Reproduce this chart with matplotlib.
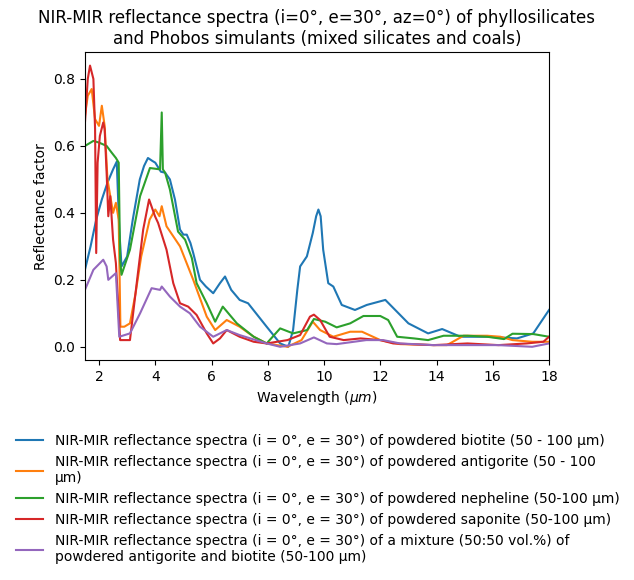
import matplotlib.pyplot as plt

# wavelength (um) / reflectance pairs
biotite_x = [1.5, 1.7, 1.9, 2.1, 2.3, 2.5, 2.63, 2.72, 2.8, 3.0, 3.2, 3.45, 3.6, 3.74, 3.9, 4.0, 4.2, 4.35,
             4.52, 4.7, 4.88, 5.0, 5.12, 5.25, 5.35, 5.59, 5.8, 6.06, 6.3, 6.48, 6.7, 7.0, 7.3, 7.96,
             8.44, 8.73, 8.9, 9.05, 9.15, 9.39, 9.6, 9.72, 9.8, 9.88, 9.97, 10.15, 10.33, 10.63, 11.1,
             11.52, 12.18, 12.59, 13.0, 13.7, 14.2, 14.85, 15.8, 16.86, 17.44, 18.0]
biotite_y = [0.23, 0.30, 0.38, 0.44, 0.49, 0.53, 0.553, 0.35, 0.24, 0.27, 0.38, 0.50, 0.54, 0.564, 0.555,
             0.55, 0.523, 0.52, 0.50, 0.44, 0.35, 0.335, 0.335, 0.31, 0.28, 0.20, 0.18, 0.16, 0.19,
             0.21, 0.17, 0.14, 0.13, 0.06, 0.01, 0.0, 0.05, 0.17, 0.24, 0.27, 0.34, 0.39, 0.41, 0.39,
             0.29, 0.19, 0.18, 0.125, 0.11, 0.125, 0.14, 0.105, 0.07, 0.04, 0.053, 0.03, 0.03, 0.025,
             0.04, 0.11]

antigorite_x = [1.5, 1.6, 1.74, 1.86, 2.0, 2.1, 2.2, 2.3, 2.4, 2.5, 2.6, 2.7, 2.76, 2.9, 3.1, 3.3, 3.5,
                3.8, 4.0, 4.15, 4.23, 4.4, 4.88, 5.35, 5.83, 6.13, 6.54, 7.0, 7.5, 7.96, 8.7, 9.2,
                9.6, 9.86, 10.33, 10.93, 11.35, 12.0, 12.7, 13.9, 14.37, 14.96, 15.8, 16.27, 16.7,
                17.4, 18.0]
antigorite_y = [0.69, 0.75, 0.77, 0.68, 0.66, 0.72, 0.66, 0.50, 0.45, 0.40, 0.43, 0.38, 0.06, 0.06, 0.07,
                0.16, 0.27, 0.38, 0.41, 0.39, 0.42, 0.36, 0.30, 0.20, 0.09, 0.05, 0.08, 0.06, 0.03, 0.01,
                0.0, 0.02, 0.075, 0.05, 0.03, 0.045, 0.045, 0.02, 0.008, 0.005, 0.005, 0.033, 0.033,
                0.03, 0.02, 0.015, 0.015]

nepheline_x = [1.5, 1.8, 2.0, 2.27, 2.45, 2.6, 2.7, 2.75, 2.8, 3.1, 3.46, 3.81, 4.17, 4.23, 4.27, 4.35,
               4.52, 4.81, 5.06, 5.3, 5.47, 5.83, 6.13, 6.4, 6.6, 6.9, 7.5, 7.96, 8.44, 8.9, 9.4, 9.64,
               10.04, 10.45, 10.93, 11.4, 12.0, 12.28, 12.6, 13.2, 13.7, 14.25, 15.1, 15.8, 16.4, 16.7,
               17.44, 18.0]
nepheline_y = [0.60, 0.615, 0.61, 0.60, 0.58, 0.564, 0.55, 0.26, 0.215, 0.29, 0.45, 0.534, 0.53, 0.70,
               0.53, 0.52, 0.47, 0.344, 0.32, 0.265, 0.19, 0.13, 0.075, 0.12, 0.10, 0.07, 0.03, 0.01,
               0.055, 0.04, 0.05, 0.083, 0.075, 0.058, 0.07, 0.092, 0.092, 0.08, 0.03, 0.025, 0.02,
               0.033, 0.033, 0.03, 0.023, 0.039, 0.038, 0.03]

saponite_x = [1.5, 1.6, 1.68, 1.8, 1.86, 1.9, 1.95, 2.03, 2.15, 2.2, 2.27, 2.33, 2.4, 2.5, 2.6, 2.7,
              2.75, 3.1, 3.34, 3.57, 3.78, 3.99, 4.1, 4.4, 4.64, 4.88, 5.17, 5.47, 5.83, 6.06, 6.3,
              6.54, 7.0, 7.5, 7.96, 8.7, 9.15, 9.5, 9.64, 9.86, 10.2, 10.7, 11.3, 12.0, 12.46, 13.9,
              15.1, 16.2, 17.2, 17.8, 18.0]
saponite_y = [0.67, 0.80, 0.84, 0.80, 0.65, 0.28, 0.55, 0.63, 0.67, 0.65, 0.52, 0.39, 0.45, 0.32, 0.25,
              0.10, 0.02, 0.02, 0.19, 0.35, 0.44, 0.39, 0.37, 0.29, 0.19, 0.13, 0.12, 0.095, 0.04, 0.01,
              0.025, 0.05, 0.03, 0.015, 0.01, 0.02, 0.035, 0.09, 0.096, 0.08, 0.03, 0.02, 0.025, 0.02,
              0.01, 0.005, 0.01, 0.005, 0.01, 0.015, 0.03]

mixture_x = [1.5, 1.8, 2.15, 2.27, 2.33, 2.6, 2.72, 3.1, 3.46, 3.87, 4.17, 4.23, 4.52, 4.88, 5.23,
             5.59, 6.06, 6.54, 7.0, 7.96, 8.44, 9.15, 9.64, 10.1, 10.45, 11.5, 12.1, 12.7, 13.9, 16.2,
             17.4, 18.0]
mixture_y = [0.17, 0.23, 0.26, 0.24, 0.20, 0.22, 0.03, 0.04, 0.10, 0.175, 0.17, 0.18, 0.15, 0.12, 0.10,
             0.06, 0.03, 0.05, 0.035, 0.01, 0.0, 0.01, 0.028, 0.01, 0.008, 0.02, 0.02, 0.01, 0.005,
             0.005, 0.0, 0.01]

labels = [
    'NIR-MIR reflectance spectra (i = 0°, e = 30°) of powdered biotite (50 - 100 µm)',
    'NIR-MIR reflectance spectra (i = 0°, e = 30°) of powdered antigorite (50 - 100\nµm)',
    'NIR-MIR reflectance spectra (i = 0°, e = 30°) of powdered nepheline (50-100 µm)',
    'NIR-MIR reflectance spectra (i = 0°, e = 30°) of powdered saponite (50-100 µm)',
    'NIR-MIR reflectance spectra (i = 0°, e = 30°) of a mixture (50:50 vol.%) of\npowdered antigorite and biotite (50-100 µm)',
]


def main():
    fig = plt.figure(figsize=(6.34, 5.8), dpi=100)
    ax = fig.add_axes([0.134, 0.379, 0.732, 0.531])
    series = [(biotite_x, biotite_y), (antigorite_x, antigorite_y), (nepheline_x, nepheline_y),
              (saponite_x, saponite_y), (mixture_x, mixture_y)]
    for (xs, ys), lab in zip(series, labels):
        ax.plot(xs, ys, label=lab, linewidth=1.5)
    ax.set_xlim(1.5, 18)
    ax.set_ylim(-0.04, 0.88)
    ax.set_xticks([2, 4, 6, 8, 10, 12, 14, 16, 18])
    ax.set_xlabel('Wavelength ($\\mu m$)')
    ax.set_ylabel('Reflectance factor')
    ax.set_title('NIR-MIR reflectance spectra (i=0°, e=30°, az=0°) of phyllosilicates\n'
                 'and Phobos simulants (mixed silicates and coals)')
    fig.legend(loc='upper left', bbox_to_anchor=(0.005, 0.273), frameon=False)
    fig.savefig('out.png', dpi=100)


if __name__ == '__main__':
    main()
